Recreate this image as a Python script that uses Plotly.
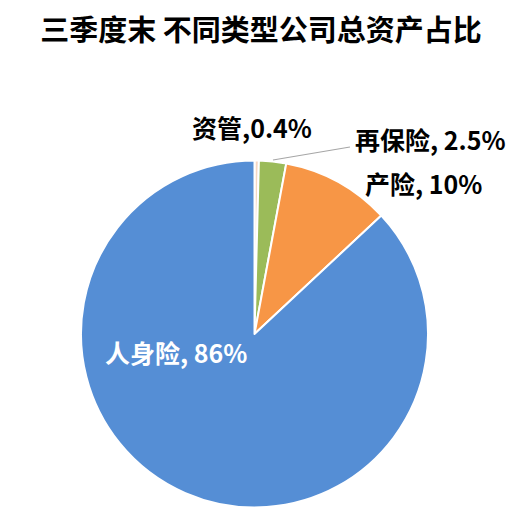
import plotly.graph_objects as go

# 三季度末 不同类型公司总资产占比
categories = ["资管", "再保险", "产险", "人身险"]
shares = [0.4, 2.5, 10, 86]
label_texts = ["资管,0.4%", "再保险, 2.5%", "产险, 10%", "人身险, 86%"]
colors = ["#F6D7C3", "#9BBB59", "#F79646", "#558ED5"]

OFF = 8  # page body margin in the browser
W, H = 519 - 2 * OFF, 525 - 2 * OFF
FONT = "Noto Sans CJK SC"


def px_x(px):
    return (px - OFF) / W


def px_y(py):
    return 1 - (py - OFF) / H


fig = go.Figure(go.Pie(
    labels=categories, values=shares,
    sort=False, direction="clockwise", rotation=0,
    marker=dict(colors=colors, line=dict(color="white", width=2)),
    textinfo="none", hoverinfo="label+percent",
    domain=dict(x=[px_x(81), px_x(428)], y=[px_y(507.5), px_y(160.5)]),
    showlegend=False,
))

# label positions in pixels (centre of text)
label_pos = [(252, 127), (430, 139), (423, 183), (176, 352)]
label_colors = ["black", "black", "black", "white"]
for txt, (px, py), c in zip(label_texts, label_pos, label_colors):
    fig.add_annotation(
        x=px_x(px), y=px_y(py), xref="paper", yref="paper",
        text=f"<b>{txt}</b>", showarrow=False,
        font=dict(family=FONT, size=25, color=c),
        xanchor="center", yanchor="middle",
    )

# leader line for 再保险
fig.add_shape(type="line", xref="paper", yref="paper",
              x0=px_x(273), y0=px_y(160), x1=px_x(350), y1=px_y(147),
              line=dict(color="#A6A6A6", width=1.2))

fig.update_layout(
    width=W, height=H,
    margin=dict(l=0, r=0, t=0, b=0),
    paper_bgcolor="white",
    title=dict(text="<b>三季度末 不同类型公司总资产占比</b>",
               x=px_x(261), xanchor="center", y=px_y(31), yanchor="middle",
               font=dict(family=FONT, size=29, color="black")),
)

fig.write_html("out.html")
